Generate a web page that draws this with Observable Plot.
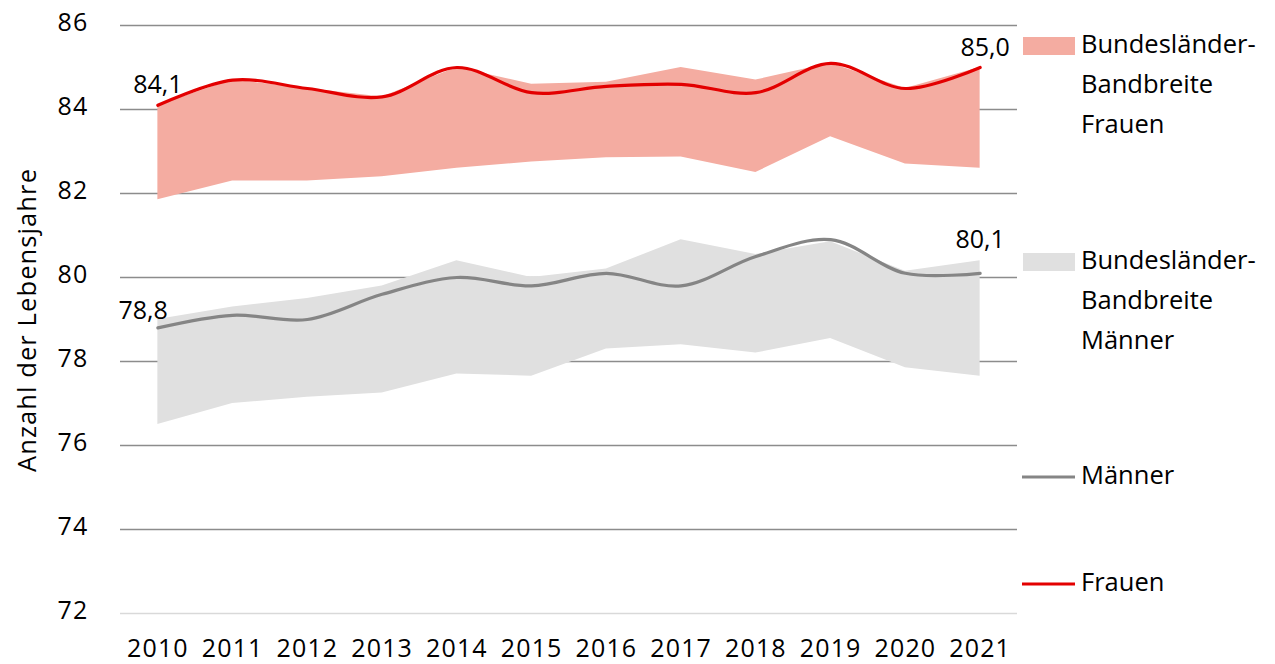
<!DOCTYPE html>
<html>
<head>
<meta charset="utf-8">
<script src="https://cdn.jsdelivr.net/npm/d3@7"></script>
<script src="https://cdn.jsdelivr.net/npm/@observablehq/plot@0.6"></script>
<style>
  html, body { margin: 0; padding: 0; background: #fff; }
  #wrap { position: relative; width: 1275px; height: 664px; font-family: "Open Sans", sans-serif; }
  #legend { position: absolute; left: 0; top: 0; pointer-events: none; }
</style>
</head>
<body>
<div id="wrap"></div>
<script>
// ---- data ----
const years = [2010, 2011, 2012, 2013, 2014, 2015, 2016, 2017, 2018, 2019, 2020, 2021];
const frauen     = [84.1, 84.7, 84.5, 84.3, 85.0, 84.4, 84.55, 84.6, 84.4, 85.1, 84.5, 85.0];
const frauenMax  = [84.1, 84.7, 84.5, 84.3, 85.0, 84.6, 84.65, 85.0, 84.7, 85.1, 84.5, 85.0];
const frauenMin  = [81.85, 82.3, 82.3, 82.4, 82.6, 82.75, 82.85, 82.87, 82.5, 83.35, 82.7, 82.6];
const maenner    = [78.8, 79.1, 79.0, 79.6, 80.0, 79.8, 80.1, 79.8, 80.5, 80.9, 80.1, 80.1];
const maennerMax = [79.0, 79.3, 79.5, 79.8, 80.4, 80.0, 80.2, 80.9, 80.55, 80.85, 80.15, 80.4];
const maennerMin = [76.5, 77.0, 77.15, 77.25, 77.7, 77.65, 78.3, 78.4, 78.2, 78.55, 77.85, 77.65];
const yTicks = [72, 74, 76, 78, 80, 82, 84, 86];
const yLabel = "Anzahl der Lebensjahre";
const legendItems = [
  {label: ["Bundesländer-", "Bandbreite", "Frauen"], type: "band", color: "#f4aca1"},
  {label: ["Bundesländer-", "Bandbreite", "Männer"], type: "band", color: "#e0e0e0"},
  {label: ["Männer"], type: "line", color: "#858585"},
  {label: ["Frauen"], type: "line", color: "#e30000"}
];

const rows = years.map((year, i) => ({
  year, frauen: frauen[i], fMin: frauenMin[i], fMax: frauenMax[i],
  maenner: maenner[i], mMin: maennerMin[i], mMax: maennerMax[i]
}));
const fmt = v => v.toFixed(1).replace(".", ",");
const first = rows[0], last = rows[rows.length - 1];

const font = "'Open Sans', sans-serif";
const lblSize = 25;

const chart = Plot.plot({
  width: 1275,
  height: 664,
  marginLeft: 120,
  marginRight: 258,
  marginTop: 25,
  marginBottom: 51,
  style: {fontFamily: font, fontSize: "25px", color: "#000", background: "#fff", overflow: "visible"},
  x: {domain: [2009.5, 2021.5], label: null},
  y: {domain: [72, 86], label: null},
  marks: [
    Plot.ruleY(yTicks.filter(t => t !== 72), {stroke: "#8c8c8c", strokeWidth: 1.5}),
    Plot.ruleY([72], {stroke: "#d9d9d9", strokeWidth: 1.5}),
    Plot.areaY(rows, {x: "year", y1: "fMin", y2: "fMax", fill: legendItems[0].color}),
    Plot.areaY(rows, {x: "year", y1: "mMin", y2: "mMax", fill: legendItems[1].color}),
    Plot.lineY(rows, {x: "year", y: "maenner", stroke: legendItems[2].color, strokeWidth: 3.2, curve: "catmull-rom"}),
    Plot.lineY(rows, {x: "year", y: "frauen", stroke: legendItems[3].color, strokeWidth: 3.2, curve: "catmull-rom"}),
    Plot.text([first], {x: "year", y: "frauen", text: d => fmt(d.frauen), textAnchor: "middle", lineAnchor: "bottom", dy: -12, fontSize: lblSize, fill: "#000", letterSpacing: "0.5px"}),
    Plot.text([last], {x: "year", y: "frauen", text: d => fmt(d.frauen), textAnchor: "middle", lineAnchor: "bottom", dx: 5, dy: -12, fontSize: lblSize, fill: "#000", letterSpacing: "0.5px"}),
    Plot.text([first], {x: "year", y: "maenner", text: d => fmt(d.maenner), textAnchor: "end", lineAnchor: "bottom", dx: 10, dy: -9, fontSize: lblSize, fill: "#000", letterSpacing: "0.5px"}),
    Plot.text([last], {x: "year", y: "maenner", text: d => fmt(d.maenner), textAnchor: "middle", lineAnchor: "bottom", dy: -25, fontSize: lblSize, fill: "#000", letterSpacing: "0.5px"}),
    Plot.axisX({ticks: years, tickFormat: d => String(d), tickSize: 0, tickPadding: 26, fontSize: 25, fill: "#000"}),
    Plot.axisY({ticks: yTicks, tickSize: 0, tickPadding: 32, fontSize: 25, fill: "#000", dy: -3, label: null})
  ]
});
document.getElementById("wrap").appendChild(chart);
d3.select(chart).selectAll("[aria-label^='x-axis tick label'] text, [aria-label^='y-axis tick label'] text")
  .style("letter-spacing", "1.2px");

// y axis title
const svg = d3.select(chart);
svg.append("text")
  .attr("transform", "translate(36,320) rotate(-90)")
  .attr("text-anchor", "middle")
  .attr("font-size", 25.5)
  .attr("letter-spacing", "1.1px")
  .attr("fill", "#000")
  .text(yLabel);

// ---- legend (overlay) ----
const leg = d3.select("#wrap").append("svg")
  .attr("id", "legend").attr("width", 1275).attr("height", 664)
  .style("font-family", font).style("font-size", "25.5px");
const legTops = [37, 253, 477, 584];
legendItems.forEach((item, i) => {
  const top = legTops[i];
  if (item.type === "band") {
    leg.append("rect").attr("x", 1023).attr("y", top).attr("width", 52).attr("height", 18).attr("fill", item.color);
    item.label.forEach((t, j) => {
      leg.append("text").attr("x", 1081).attr("y", top + 16 + j * 40).attr("fill", "#000").text(t);
    });
  } else {
    leg.append("line").attr("x1", 1022).attr("x2", 1075).attr("y1", top).attr("y2", top)
      .attr("stroke", item.color).attr("stroke-width", 3.2);
    leg.append("text").attr("x", 1081).attr("y", top + 7).attr("fill", "#000").text(item.label[0]);
  }
});
</script>
</body>
</html>
